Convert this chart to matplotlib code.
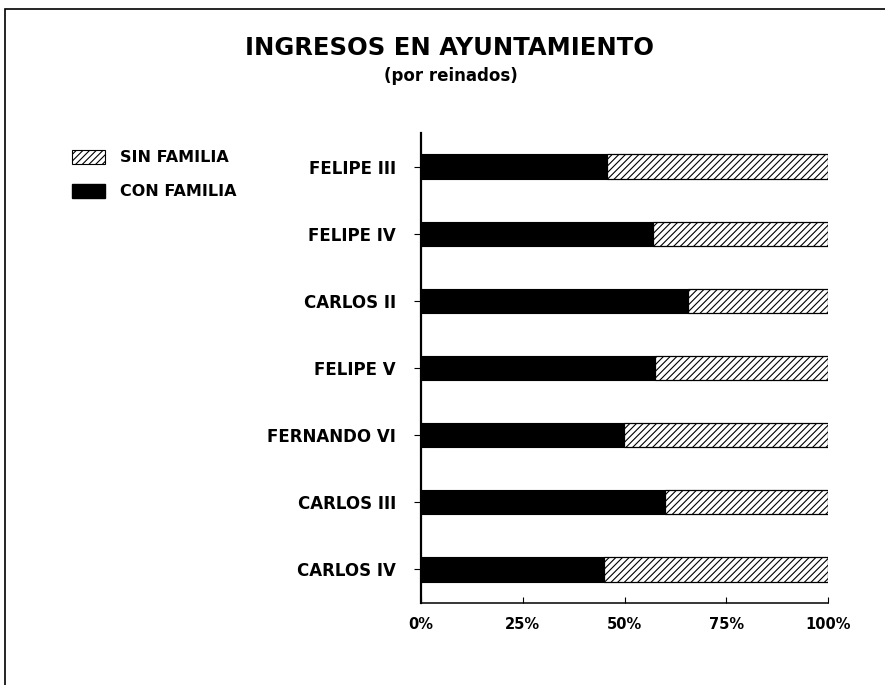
import matplotlib
matplotlib.use("Agg")
import matplotlib.pyplot as plt
from matplotlib.patches import Patch, Rectangle

reinados = ["FELIPE III", "FELIPE IV", "CARLOS II", "FELIPE V", "FERNANDO VI", "CARLOS III", "CARLOS IV"]
con_familia = [45.6, 57.1, 65.5, 57.5, 49.9, 60.0, 45.0]
sin_familia = [100 - v for v in con_familia]
xticks = [0, 25, 50, 75, 100]
xticklabels = ["0%", "25%", "50%", "75%", "100%"]

plt.rcParams['font.family'] = ['DejaVu Sans']
plt.rcParams['hatch.linewidth'] = 0.8

fig = plt.figure(figsize=(8.85, 6.85), dpi=100)
W, H = 885, 685
ax = fig.add_axes([421 / W, 1 - 603 / H, (828 - 421) / W, (603 - 133) / H])

y = list(range(len(reinados)))
ax.barh(y, con_familia, height=0.36, color="black", edgecolor="black", linewidth=0.8)
ax.barh(y, sin_familia, left=con_familia, height=0.36, color="white", edgecolor="black",
        hatch="/////", linewidth=0.9)

ax.set_xlim(0, 100)
ax.set_ylim(len(reinados) - 0.5, -0.5)
ax.set_yticks(y)
ax.set_yticklabels(reinados, fontsize=12, fontweight="bold")
ax.set_xticks(xticks)
ax.set_xticklabels(xticklabels, fontsize=10.5, fontweight="bold")
ax.tick_params(axis="x", direction="in", length=4, width=0.8, pad=10)
ax.tick_params(axis="y", direction="out", length=5, width=0.8, pad=13)
for s in ["top", "right"]:
    ax.spines[s].set_visible(False)
ax.spines["left"].set_linewidth(1.6)
ax.spines["bottom"].set_linewidth(1.1)

fig.text(449 / W, 1 - 48 / H, "INGRESOS EN AYUNTAMIENTO", ha="center", va="center",
         fontsize=17.5, fontweight="bold")
fig.text(451 / W, 1 - 76 / H, "(por reinados)", ha="center", va="center",
         fontsize=12, fontweight="bold")

handles = [Patch(facecolor="white", edgecolor="black", hatch="/////", linewidth=0.8),
           Patch(facecolor="black", edgecolor="black")]
fig.legend(handles, ["SIN FAMILIA", "CON FAMILIA"], loc="upper left",
           bbox_to_anchor=(72 / W, 1 - 150 / H), frameon=False, borderpad=0, borderaxespad=0,
           prop={"weight": "bold", "size": 11.5}, handlelength=2.05, handleheight=0.95,
           labelspacing=1.15, handletextpad=0.95)

fig.patches.append(Rectangle((5 / W, -0.1), 1.2, 1 - 9 / H + 0.1, transform=fig.transFigure,
                             fill=False, edgecolor="black", linewidth=1.2))

fig.savefig("out.png", dpi=100)
